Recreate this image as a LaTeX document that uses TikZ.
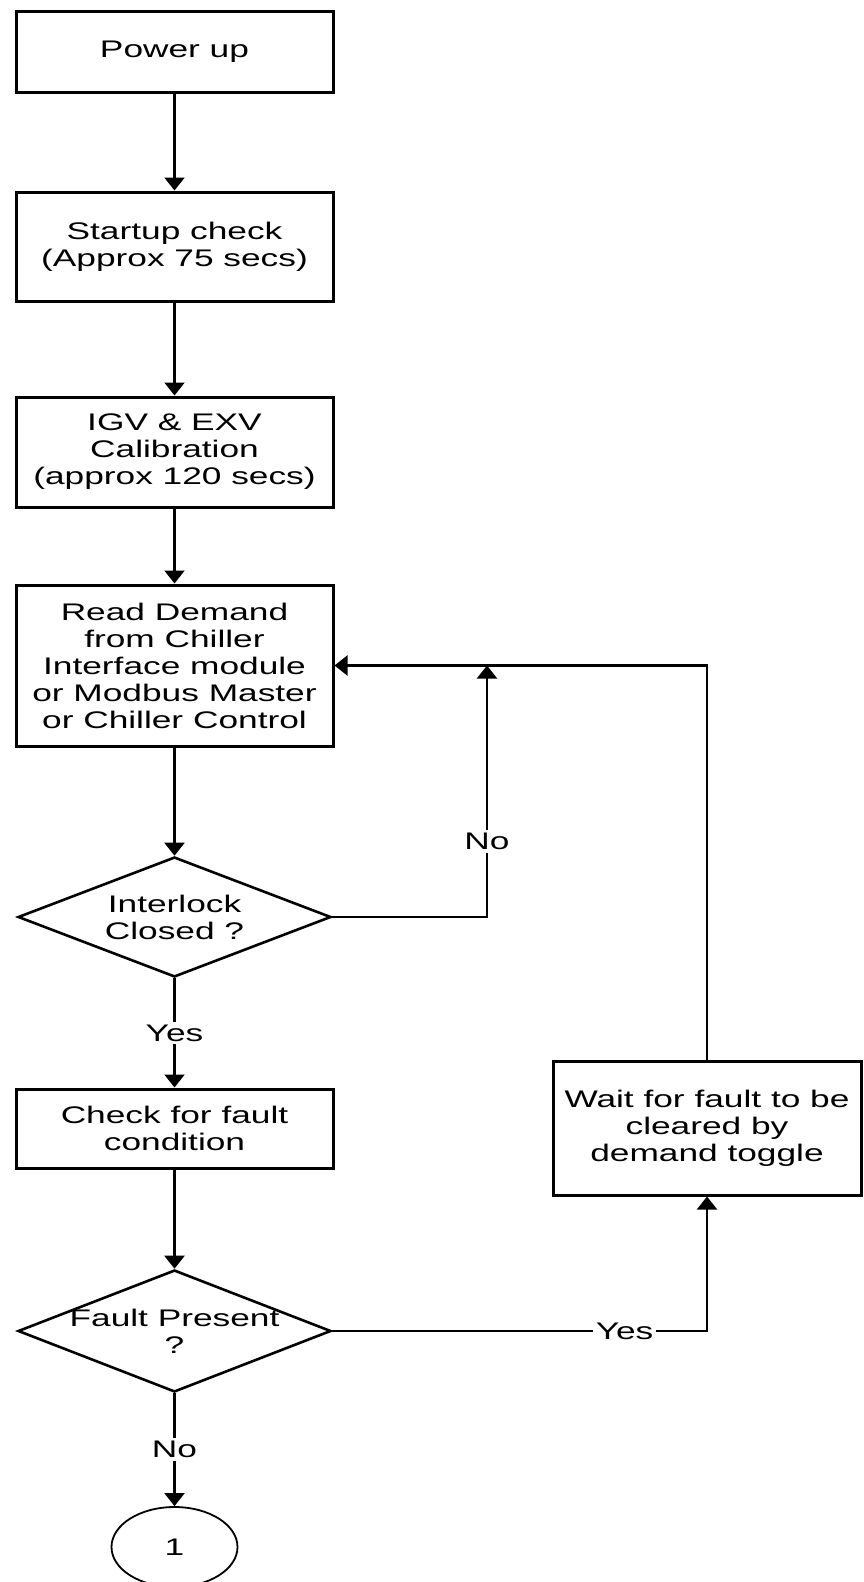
\documentclass[tikz,border=0pt]{standalone}
\usepackage{fontspec}
\setmainfont[FakeStretch=1.47]{Liberation Sans}
\usetikzlibrary{shapes.geometric}
\usetikzlibrary{arrows.meta}
\usetikzlibrary{calc}

\begin{document}
\begin{tikzpicture}[x=1pt,y=-1pt,
  box/.style={draw,line width=3pt,align=center,inner sep=0pt,font=\fontsize{24}{27}\selectfont},
  decision/.style={draw,diamond,line width=2.6pt,inner sep=0pt},
  txt/.style={align=center,inner sep=0pt,font=\fontsize{24}{27}\selectfont},
  link/.style={line width=2.2pt,-{Triangle[width=20pt,length=13pt]}},
  tag/.style={fill=white,inner sep=3pt,font=\fontsize{24}{27}\selectfont}]
\useasboundingbox (0,0) rectangle (863,1582);

% main column
\node[box,minimum width=317pt,minimum height=81pt] (power) at (174.5,51.5) {Power up};
\node[box,minimum width=317pt,minimum height=109pt] (start) at (174.5,246.5) {Startup check\\(Approx 75 secs)};
\node[box,minimum width=317pt,minimum height=110pt] (igv) at (174.5,452) {IGV \& EXV\\Calibration\\(approx 120 secs)};
\node[box,minimum width=317pt,minimum height=161pt] (demand) at (174.5,665.5) {Read Demand\\from Chiller\\Interface module\\or Modbus Master\\or Chiller Control};

\node[decision,minimum width=313pt,minimum height=120pt] (lock) at (174.5,917) {};
\node[txt] (locktxt) at (lock) {Interlock\\Closed ?};

\node[box,minimum width=317pt,minimum height=79pt] (check) at (174.5,1128.5) {Check for fault\\condition};

\node[decision,minimum width=313pt,minimum height=122pt] (fault) at (174.5,1331) {};
\node[txt] (faulttxt) at (fault) {Fault Present\\?};

\node[draw,ellipse,line width=1.8pt,inner sep=0pt,minimum width=126pt,minimum height=80pt,font=\fontsize{24}{27}\selectfont] (conn) at (174.5,1547) {1};

% side branch
\node[box,minimum width=308pt,minimum height=134pt] (wait) at (707,1128) {Wait for fault to be\\cleared by\\demand toggle};
\coordinate (nojoin) at (487,665.5);

% connectors
\draw[link] (power) -- (start);
\draw[link] (start) -- (igv);
\draw[link] (igv) -- (demand);
\draw[link] (demand) -- (lock);
\draw[link] (lock) -- node[tag] {Yes} (check);
\draw[link] (check) -- (fault);
\draw[link] (fault) -- node[tag] {No} (conn);
\draw[link] (lock.east) -| node[tag,pos=0.65] {No} (nojoin);
\draw[link] (wait.north) |- (demand.east);
\draw[link] (fault.east) -| node[tag,pos=0.39] {Yes} (wait.south);
\end{tikzpicture}
\end{document}
